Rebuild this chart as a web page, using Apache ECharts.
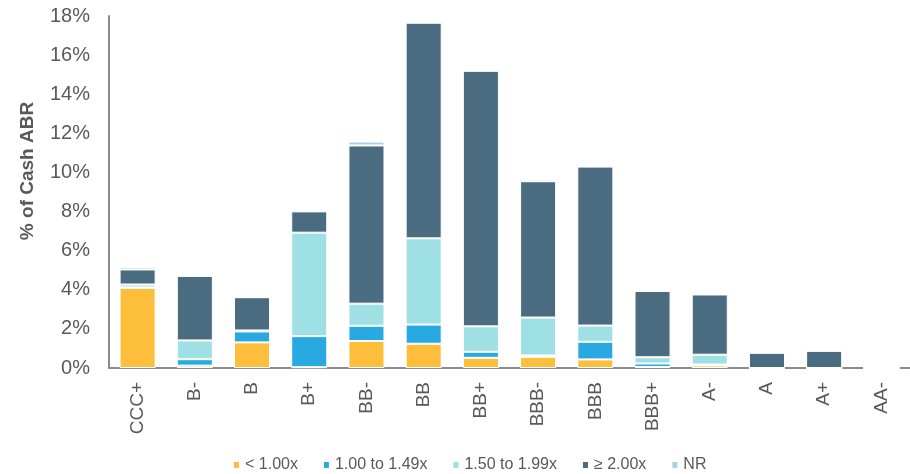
<!DOCTYPE html>
<html>
<head>
<meta charset="utf-8">
<script src="https://cdn.jsdelivr.net/npm/echarts@6/dist/echarts.min.js"></script>
<style>
  html, body { margin: 0; padding: 0; background: #fff; }
  #chart { width: 910px; height: 474px; }
</style>
</head>
<body>
<div id="chart"></div>
<script>
// ratings on x axis
const categories = ["CCC+", "B-", "B", "B+", "BB-", "BB", "BB+", "BBB-", "BBB", "BBB+", "A-", "A", "A+", "AA-"];

// % of cash ABR per coverage bucket
const below100 = [4.10, 0.12, 1.31, 0.04, 1.38, 1.24, 0.52, 0.57, 0.44, 0.05, 0.13, 0, 0, 0];
const from100to149 = [0.02, 0.33, 0.56, 1.59, 0.78, 0.98, 0.31, 0.07, 0.90, 0.18, 0.05, 0, 0, 0];
const from150to199 = [0.15, 0.96, 0.05, 5.29, 1.13, 4.41, 1.30, 1.94, 0.83, 0.32, 0.50, 0, 0, 0];
const above200 = [0.77, 3.30, 1.70, 1.09, 8.09, 11.03, 13.07, 6.97, 8.13, 3.39, 3.08, 0.78, 0.88, 0];
const notRated = [0.13, 0, 0, 0, 0.20, 0, 0, 0.10, 0, 0, 0, 0, 0, 0];

const seriesNames = ["< 1.00x", "1.00 to 1.49x", "1.50 to 1.99x", "≥ 2.00x", "NR"];
const seriesColors = ["#fdbf3b", "#29a9e1", "#9ee0e4", "#4b6b80", "#a9d3e2"];
const seriesData = [below100, from100to149, from150to199, above200, notRated];

const chart = echarts.init(document.getElementById("chart"));

const option = {
  animation: false,
  textStyle: { fontFamily: "Liberation Sans, Arial, sans-serif" },
  grid: {
    left: 109,
    right: -8,
    top: 16,
    bottom: 106,
    containLabel: false,
  },
  legend: {
    left: 227,
    top: 452,
    icon: "rect",
    itemWidth: 7,
    itemHeight: 8,
    itemGap: 24,
    textStyle: { color: "#595959", fontSize: 16 },
    data: seriesNames,
  },
  xAxis: {
    type: "category",
    data: categories,
    axisLine: { show: true, lineStyle: { color: "#8c8c8c", width: 2 } },
    axisTick: { show: false },
    axisLabel: {
      rotate: 90,
      margin: 14,
      color: "#595959",
      fontSize: 19,
      interval: 0,
    },
  },
  yAxis: {
    type: "value",
    min: 0,
    max: 18,
    interval: 2,
    name: "% of Cash ABR",
    nameLocation: "middle",
    nameGap: 72,
    nameTextStyle: { color: "#595959", fontSize: 19, fontWeight: "bold", padding: [0, 0, 0, 42] },
    splitLine: { show: false },
    axisLine: { show: true, lineStyle: { color: "#8c8c8c", width: 2 } },
    axisTick: { show: false },
    axisLabel: {
      formatter: "{value}%",
      color: "#595959",
      fontSize: 20,
      margin: 19,
    },
  },
  series: seriesNames.map((name, i) => ({
    name: name,
    type: "bar",
    stack: "total",
    data: seriesData[i],
    barWidth: "63%",
    itemStyle: {
      color: seriesColors[i],
      borderColor: "#ffffff",
      borderWidth: 1,
    },
  })),
};

chart.setOption(option);
</script>
</body>
</html>
